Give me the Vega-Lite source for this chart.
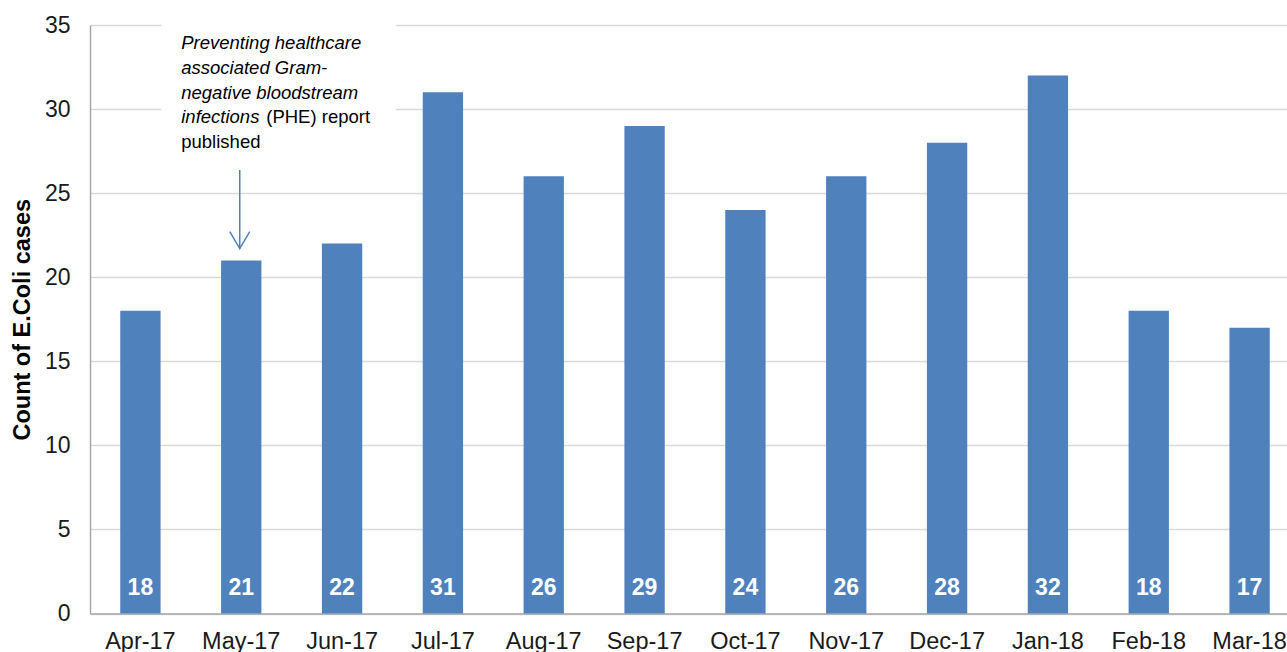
{
  "$schema": "https://vega.github.io/schema/vega-lite/v6.json",
  "autosize": "none",
  "width": 1210,
  "height": 588.5,
  "padding": {"left": 90, "top": 25, "right": 0, "bottom": 38.5},
  "background": "white",
  "config": {
    "view": {"stroke": null},
    "font": "Liberation Sans",
    "axis": {"labelFont": "Liberation Sans", "titleFont": "Liberation Sans"}
  },
  "datasets": {
    "cases": [
      {"month": "Apr-17", "count": 18},
      {"month": "May-17", "count": 21},
      {"month": "Jun-17", "count": 22},
      {"month": "Jul-17", "count": 31},
      {"month": "Aug-17", "count": 26},
      {"month": "Sep-17", "count": 29},
      {"month": "Oct-17", "count": 24},
      {"month": "Nov-17", "count": 26},
      {"month": "Dec-17", "count": 28},
      {"month": "Jan-18", "count": 32},
      {"month": "Feb-18", "count": 18},
      {"month": "Mar-18", "count": 17}
    ],
    "italicLines": [
      {"month": "May-17", "line": "Preventing healthcare", "pos": 33.93},
      {"month": "May-17", "line": "associated Gram-", "pos": 32.44},
      {"month": "May-17", "line": "negative bloodstream", "pos": 30.96},
      {"month": "May-17", "line": "infections", "pos": 29.5}
    ],
    "normalLines": [
      {"month": "May-17", "line": "published", "pos": 28.02}
    ],
    "phe": [
      {"month": "May-17", "line": "(PHE) report", "pos": 29.5}
    ],
    "arrow": [
      {"month": "May-17", "start": 26.38, "end": 21.7}
    ]
  },
  "encoding": {
    "x": {
      "field": "month",
      "type": "nominal",
      "sort": null,
      "scale": {"paddingInner": 0.6, "paddingOuter": 0.3},
      "axis": {
        "title": null,
        "labelAngle": 0,
        "labelFontSize": 23.5,
        "labelColor": "#1a1a1a",
        "labelPadding": 16,
        "ticks": false,
        "domainColor": "#a6a6a6",
        "domainWidth": 1.5,
        "grid": false
      }
    }
  },
  "layer": [
    {
      "data": {"name": "cases"},
      "mark": {"type": "bar", "color": "#4f81bd"},
      "encoding": {
        "y": {
          "field": "count",
          "type": "quantitative",
          "scale": {"domain": [0, 35], "nice": false},
          "axis": {
            "title": "Count of E.Coli cases",
            "titleFontSize": 23.5,
            "titleFontWeight": "bold",
            "titleColor": "#000000",
            "titlePadding": 10,
            "values": [0, 5, 10, 15, 20, 25, 30, 35],
            "labelFontSize": 23,
            "labelColor": "#1a1a1a",
            "labelPadding": 20,
            "ticks": false,
            "domainColor": "#a6a6a6",
            "domainWidth": 1.5,
            "gridColor": "#d9d9d9",
            "gridWidth": 1.5
          }
        }
      }
    },
    {
      "data": {"name": "cases"},
      "mark": {"type": "text", "color": "white", "fontSize": 23, "fontWeight": "bold", "baseline": "bottom", "dy": -14},
      "encoding": {
        "y": {"datum": 0, "type": "quantitative"},
        "text": {"field": "count", "type": "quantitative"}
      }
    },
    {
      "data": {"values": [{"a": "Apr-17", "b": "Jun-17"}]},
      "mark": {"type": "rect", "color": "white"},
      "encoding": {
        "x": {"field": "a", "type": "nominal", "bandPosition": 1.02},
        "x2": {"field": "b", "bandPosition": 1.83},
        "y": {"datum": 35.5, "type": "quantitative"},
        "y2": {"datum": 27.3}
      }
    },
    {
      "data": {"name": "italicLines"},
      "mark": {"type": "text", "align": "left", "baseline": "middle", "fontSize": 18.5, "fontStyle": "italic", "color": "#000000", "dx": -60},
      "encoding": {
        "y": {"field": "pos", "type": "quantitative"},
        "text": {"field": "line"}
      }
    },
    {
      "data": {"name": "phe"},
      "mark": {"type": "text", "align": "left", "baseline": "middle", "fontSize": 18.5, "color": "#000000", "dx": 25},
      "encoding": {
        "y": {"field": "pos", "type": "quantitative"},
        "text": {"field": "line"}
      }
    },
    {
      "data": {"name": "normalLines"},
      "mark": {"type": "text", "align": "left", "baseline": "middle", "fontSize": 18.5, "color": "#000000", "dx": -60},
      "encoding": {
        "y": {"field": "pos", "type": "quantitative"},
        "text": {"field": "line"}
      }
    },
    {
      "data": {"name": "arrow"},
      "mark": {"type": "rule", "color": "#4f81bd", "strokeWidth": 1.5, "xOffset": -1.5},
      "encoding": {
        "y": {"field": "start", "type": "quantitative"},
        "y2": {"field": "end"}
      }
    },
    {
      "data": {"name": "arrow"},
      "mark": {"type": "point", "shape": "M-1,-1.7L0,0L1,-1.7", "size": 400, "filled": false, "stroke": "#4f81bd", "strokeWidth": 1.5, "opacity": 1, "xOffset": -1.5},
      "encoding": {
        "y": {"field": "end", "type": "quantitative"}
      }
    }
  ]
}
